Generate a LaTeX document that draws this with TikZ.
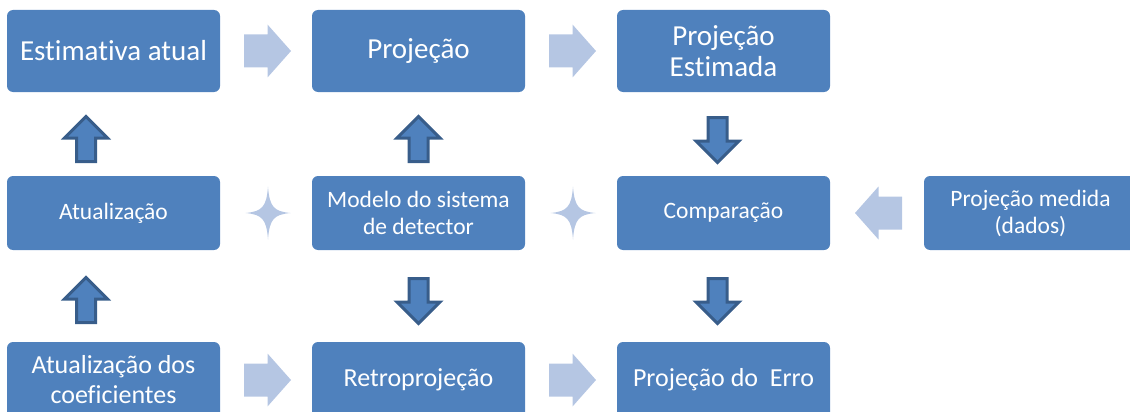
\documentclass[tikz,border=0pt]{standalone}
\usepackage{fontspec}
\setmainfont[Ligatures=NoCommon]{Carlito}
\definecolor{boxblue}{RGB}{79,129,189}
\definecolor{darkedge}{RGB}{56,93,138}
\definecolor{lightarr}{RGB}{181,198,227}
\begin{document}
\begin{tikzpicture}[x=1pt,y=-1pt,
  box/.style={rectangle, rounded corners=6pt, fill=boxblue, text=white, align=center, minimum width=213pt, inner sep=0pt},
  rowtop/.style={box, minimum height=82pt, font=\fontsize{29}{31}\selectfont},
  rowmid/.style={box, minimum height=74pt, font=\fontsize{23.5}{27}\selectfont},
  rowbot/.style={box, minimum height=76pt, font=\fontsize{26}{30}\selectfont},
  lightfill/.style={fill=lightarr},
  darkarrow/.style={fill=boxblue, draw=darkedge, line width=3pt, line join=miter},
  rarrow/.pic={\path[lightfill] (-23.5,-16.5) -- (0,-16.5) -- (0,-26.5) -- (23.5,0) -- (0,26.5) -- (0,16.5) -- (-23.5,16.5) -- cycle;},
  larrow/.pic={\path[lightfill] (23.5,-16.5) -- (0,-16.5) -- (0,-26.5) -- (-23.5,0) -- (0,26.5) -- (0,16.5) -- (23.5,16.5) -- cycle;},
  uarrow/.pic={\path[darkarrow] (-9.5,22.5) -- (-9.5,-1) -- (-21.5,-1) -- (0,-22.5) -- (21.5,-1) -- (9.5,-1) -- (9.5,22.5) -- cycle;},
  darrow/.pic={\path[darkarrow] (-9.5,-22.5) -- (-9.5,1) -- (-21.5,1) -- (0,22.5) -- (21.5,1) -- (9.5,1) -- (9.5,-22.5) -- cycle;},
  starshape/.pic={\path[lightfill] (0,-26.5) .. controls (1.5,-6) and (6,-1.5) .. (22.5,0)
      .. controls (6,1.5) and (1.5,6) .. (0,26.5)
      .. controls (-1.5,6) and (-6,1.5) .. (-22.5,0)
      .. controls (-6,-1.5) and (-1.5,-6) .. (0,-26.5) -- cycle;}
]
\useasboundingbox (0,0) rectangle (1130,412);
\clip (0,0) rectangle (1130,412);

% boxes
\node[rowtop] (est) at (113.5,51) {Estimativa atual};
\node[rowtop] (proj) at (418.5,51) {Projeção};
\node[rowtop] (projest) at (723.5,51) {Projeção\\Estimada};
\node[rowmid] (atu) at (113.5,213) {Atualização};
\node[rowmid] (mod) at (418.5,213) {Modelo do sistema\\de detector};
\node[rowmid] (comp) at (723.5,213) {Comparação};
\node[rowmid] (med) at (1030.5,213) {Projeção medida\\(dados)};
\node[rowbot] (coef) at (113.5,380) {Atualização dos\\coeficientes};
\node[rowbot] (retro) at (418.5,380) {Retroprojeção};
\node[rowbot] (erro) at (723.5,380) {Projeção do\ \ Erro};

% arrow positions
\coordinate (h1) at (267.5,51);
\coordinate (h2) at (572.5,51);
\coordinate (h3) at (267.5,380);
\coordinate (h4) at (572.5,380);
\coordinate (h5) at (878.5,213);
\coordinate (u1) at (86,139);
\coordinate (u2) at (86,300);
\coordinate (u3) at (418.5,139);
\coordinate (d1) at (418.5,301);
\coordinate (d2) at (717.5,140);
\coordinate (d3) at (717.5,301);
\coordinate (s1) at (268,213);
\coordinate (s2) at (573,213);

\pic at (h1) {rarrow};
\pic at (h2) {rarrow};
\pic at (h3) {rarrow};
\pic at (h4) {rarrow};
\pic at (h5) {larrow};
\pic at (u1) {uarrow};
\pic at (u2) {uarrow};
\pic at (u3) {uarrow};
\pic at (d1) {darrow};
\pic at (d2) {darrow};
\pic at (d3) {darrow};
\pic at (s1) {starshape};
\pic at (s2) {starshape};
\end{tikzpicture}
\end{document}
